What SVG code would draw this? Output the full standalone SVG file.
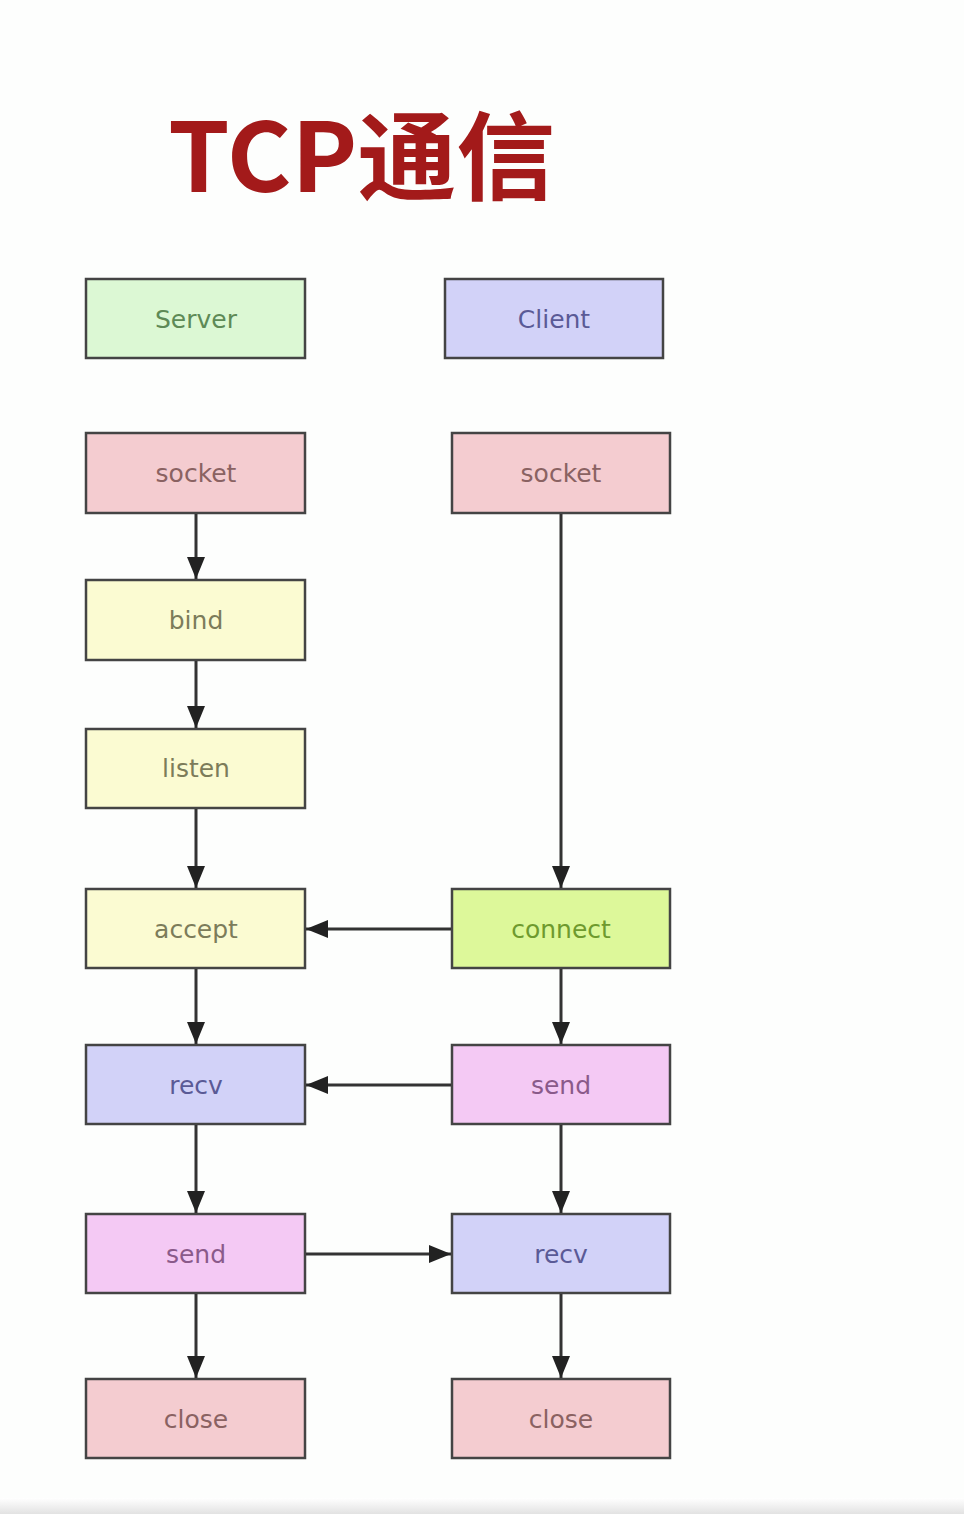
<svg xmlns="http://www.w3.org/2000/svg" width="964" height="1514" viewBox="0 0 964 1514">
<defs>
<marker id="ah" viewBox="0 0 22 18" refX="22" refY="9" markerWidth="22" markerHeight="18" markerUnits="userSpaceOnUse" orient="auto">
<path d="M0,0 L22,9 L0,18 Z" fill="#222"/>
</marker>
<linearGradient id="bot" x1="0" y1="0" x2="0" y2="1">
<stop offset="0" stop-color="#ffffff"/>
<stop offset="1" stop-color="#e2e2e2"/>
</linearGradient>
<style>
.b{stroke:#444;stroke-width:2.5}
.t{font-family:"DejaVu Sans","Noto Sans",sans-serif;font-size:25px;text-anchor:middle;dominant-baseline:central}
.c line{stroke:#333;stroke-width:3;marker-end:url(#ah)}
.green{fill:#dcf8d4}.blue{fill:#d2d2f8}.rose{fill:#f4ccd0}.yel{fill:#fbfbd2}.lime{fill:#ddf89a}.pink{fill:#f4c9f4}
</style>
</defs>
<rect width="964" height="1514" fill="#fdfefd"/>
<rect x="0" y="1498" width="964" height="16" fill="url(#bot)"/>
<text x="168" y="192" font-family="Noto Sans CJK SC, sans-serif" font-weight="bold" font-size="96" fill="#a31a1a" textLength="387" lengthAdjust="spacingAndGlyphs">TCP通信</text>

<g id="server"><rect class="b green" x="86" y="279" width="219" height="79"/><text class="t" x="196" y="319" fill="#5e8a56">Server</text></g>
<g id="client"><rect class="b blue" x="445" y="279" width="218" height="79"/><text class="t" x="554" y="319" fill="#5a5a96">Client</text></g>

<g id="s_socket"><rect class="b rose" x="86" y="433" width="219" height="80"/><text class="t" x="196" y="473" fill="#8a6262">socket</text></g>
<g id="s_bind"><rect class="b yel" x="86" y="580" width="219" height="80"/><text class="t" x="196" y="620" fill="#7c7c5a">bind</text></g>
<g id="s_listen"><rect class="b yel" x="86" y="729" width="219" height="79"/><text class="t" x="196" y="768" fill="#7c7c5a">listen</text></g>
<g id="s_accept"><rect class="b yel" x="86" y="889" width="219" height="79"/><text class="t" x="196" y="929" fill="#7c7c5a">accept</text></g>
<g id="s_recv"><rect class="b blue" x="86" y="1045" width="219" height="79"/><text class="t" x="196" y="1085" fill="#5a5a96">recv</text></g>
<g id="s_send"><rect class="b pink" x="86" y="1214" width="219" height="79"/><text class="t" x="196" y="1254" fill="#8a5a8a">send</text></g>
<g id="s_close"><rect class="b rose" x="86" y="1379" width="219" height="79"/><text class="t" x="196" y="1419" fill="#8a6262">close</text></g>

<g id="c_socket"><rect class="b rose" x="452" y="433" width="218" height="80"/><text class="t" x="561" y="473" fill="#8a6262">socket</text></g>
<g id="c_connect"><rect class="b lime" x="452" y="889" width="218" height="79"/><text class="t" x="561" y="929" fill="#6e9a2e">connect</text></g>
<g id="c_send"><rect class="b pink" x="452" y="1045" width="218" height="79"/><text class="t" x="561" y="1085" fill="#8a5a8a">send</text></g>
<g id="c_recv"><rect class="b blue" x="452" y="1214" width="218" height="79"/><text class="t" x="561" y="1254" fill="#5a5a96">recv</text></g>
<g id="c_close"><rect class="b rose" x="452" y="1379" width="218" height="79"/><text class="t" x="561" y="1419" fill="#8a6262">close</text></g>

<g id="connectors" class="c">
<line x1="196" y1="514" x2="196" y2="579"/>
<line x1="196" y1="661" x2="196" y2="728"/>
<line x1="196" y1="809" x2="196" y2="888"/>
<line x1="196" y1="969" x2="196" y2="1044"/>
<line x1="196" y1="1125" x2="196" y2="1213"/>
<line x1="196" y1="1294" x2="196" y2="1378"/>
<line x1="561" y1="514" x2="561" y2="888"/>
<line x1="561" y1="969" x2="561" y2="1044"/>
<line x1="561" y1="1125" x2="561" y2="1213"/>
<line x1="561" y1="1294" x2="561" y2="1378"/>
<line x1="451" y1="929" x2="306" y2="929"/>
<line x1="451" y1="1085" x2="306" y2="1085"/>
<line x1="306" y1="1254" x2="451" y2="1254"/>
</g>
</svg>
